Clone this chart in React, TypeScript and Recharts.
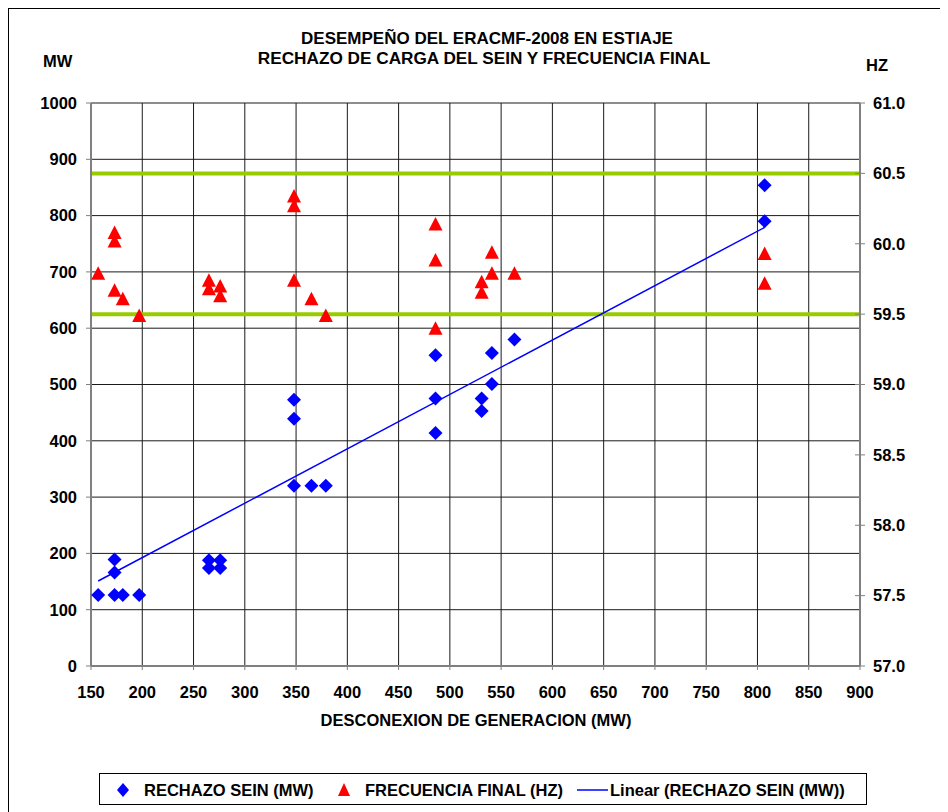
import React from 'react';
import { ScatterChart, Scatter, XAxis, YAxis, CartesianGrid, ReferenceLine, Legend } from 'recharts';

// Desconexión de generación (MW) para cada rechazo de carga
const desconexionMW = [157, 173, 181, 197, 173, 173, 265, 265, 276, 276, 348, 365, 379, 348, 348, 486, 486, 486, 541, 563, 541, 531, 531, 807, 807];
const rechazoMW = [126, 126, 126, 126, 189, 166, 188, 174, 188, 174, 320, 320, 320, 473, 439, 552, 475, 414, 556, 580, 501, 475, 453, 854, 790];

// Desconexión de generación (MW) para cada frecuencia final
const frecDesconexionMW = [157, 173, 173, 173, 181, 197, 265, 265, 276, 276, 348, 348, 348, 365, 379, 486, 486, 486, 541, 541, 563, 531, 531, 807, 807];
const frecuenciaHz = [59.79, 60.08, 60.02, 59.67, 59.61, 59.49, 59.74, 59.68, 59.70, 59.63, 60.34, 60.27, 59.74, 59.61, 59.49, 60.14, 59.885, 59.40, 59.94, 59.79, 59.79, 59.73, 59.655, 59.93, 59.72];

// Linear trendline endpoints
const trendX = [157, 807];
const trendMW = [151, 779];

const limitesHz = [59.5, 60.5];

const xTicks = [150, 200, 250, 300, 350, 400, 450, 500, 550, 600, 650, 700, 750, 800, 850, 900];
const mwTicks = [0, 100, 200, 300, 400, 500, 600, 700, 800, 900, 1000];
const hzTicks = [57, 57.5, 58, 58.5, 59, 59.5, 60, 60.5, 61];

const title1 = 'DESEMPEÑO DEL ERACMF-2008 EN ESTIAJE';
const title2 = 'RECHAZO DE CARGA DEL SEIN Y FRECUENCIA FINAL';
const xTitle = 'DESCONEXION DE GENERACION (MW)';
const leftTitle = 'MW';
const rightTitle = 'HZ';
const legendNames = ['RECHAZO SEIN (MW)', 'FRECUENCIA FINAL (HZ)', 'Linear (RECHAZO SEIN (MW))'];

const rechazoData = desconexionMW.map((x, i) => ({ x, y: rechazoMW[i] }));
const frecData = frecDesconexionMW.map((x, i) => ({ x, y: frecuenciaHz[i] }));
const trendData = trendX.map((x, i) => ({ x, y: trendMW[i] }));

const FONT = "'Liberation Sans', Arial, sans-serif";
const FS = 16.5;

const Diamond = (props: any) => {
  const { cx, cy } = props;
  if (cx == null || cy == null) return null;
  return <polygon points={`${cx},${cy - 7} ${cx + 7},${cy} ${cx},${cy + 7} ${cx - 7},${cy}`} fill="#0000ff" />;
};

const Triangle = (props: any) => {
  const { cx, cy } = props;
  if (cx == null || cy == null) return null;
  return <polygon points={`${cx},${cy - 7} ${cx + 7},${cy + 6.5} ${cx - 7},${cy + 6.5}`} fill="#ff0000" />;
};

const NoShape = () => null;

const HzTick = (props: any) => {
  const { x, y, payload } = props;
  return (
    <g>
      <line x1={x - 18} y1={y} x2={x - 8} y2={y} stroke="#808080" strokeWidth={1} />
      <text x={x} y={y} dy="0.355em" textAnchor="start" fontFamily={FONT} fontWeight="bold" fontSize={FS} fill="#000">
        {Number(payload.value).toFixed(1)}
      </text>
    </g>
  );
};

const renderLegend = () => (
  <div
    style={{
      boxSizing: 'border-box',
      width: 768,
      height: 32,
      border: '1.5px solid #000',
      background: '#fff',
      position: 'relative',
    }}
  >
    <svg width={768} height={32} style={{ position: 'absolute', left: 0, top: 0 }}>
      <polygon points="23,9 29,16 23,23 17,16" fill="#0000ff" />
      <text x={44} y={22} fontFamily={FONT} fontWeight="bold" fontSize={FS} fill="#000">{legendNames[0]}</text>
      <polygon points="244,9 250,22 238,22" fill="#ff0000" />
      <text x={265} y={22} fontFamily={FONT} fontWeight="bold" fontSize={FS} fill="#000">{legendNames[1]}</text>
      <line x1={477} y1={16} x2={508} y2={16} stroke="#0000ff" strokeWidth={1.5} />
      <text x={510} y={22} fontFamily={FONT} fontWeight="bold" fontSize={FS} fill="#000">{legendNames[2]}</text>
    </svg>
  </div>
);

const tickStyle = { fontFamily: FONT, fontWeight: 'bold' as const, fontSize: FS, fill: '#000' };

export default function App() {
  return (
    <div style={{ position: 'relative', width: 948, height: 812, marginLeft: -8, marginTop: -8, overflow: 'hidden', background: '#fff' }}>
      <div style={{ position: 'absolute', left: 0, top: 0 }}>
        <ScatterChart width={948} height={812} margin={{ top: 103, right: 0, bottom: 44, left: 0 }}>
          <CartesianGrid stroke="#1a1a1a" strokeWidth={1} yAxisId="mw" />
          <XAxis
            type="number"
            dataKey="x"
            domain={[150, 900]}
            ticks={xTicks}
            interval={0}
            allowDataOverflow
            height={70}
            tickSize={4}
            tickMargin={16}
            axisLine={{ stroke: '#808080', strokeWidth: 2 }}
            tickLine={{ stroke: '#808080' }}
            tick={tickStyle}
          />
          <YAxis
            yAxisId="mw"
            type="number"
            dataKey="y"
            domain={[0, 1000]}
            ticks={mwTicks}
            interval={0}
            width={91}
            tickSize={5}
            tickMargin={9}
            axisLine={{ stroke: '#808080', strokeWidth: 2 }}
            tickLine={{ stroke: '#808080' }}
            tick={tickStyle}
          />
          <YAxis
            yAxisId="hz"
            orientation="right"
            type="number"
            dataKey="y"
            domain={[57, 61]}
            ticks={hzTicks}
            interval={0}
            width={88}
            tickSize={5}
            tickMargin={8}
            axisLine={{ stroke: '#808080', strokeWidth: 2 }}
            tickLine={false}
            tick={<HzTick />}
          />
          {limitesHz.map((v) => (
            <ReferenceLine key={v} yAxisId="hz" y={v} stroke="#99cc00" strokeWidth={4} />
          ))}
          <Scatter name={legendNames[0]} yAxisId="mw" data={rechazoData} shape={Diamond} isAnimationActive={false} />
          <Scatter name={legendNames[1]} yAxisId="hz" data={frecData} shape={Triangle} isAnimationActive={false} />
          <Scatter
            name={legendNames[2]}
            yAxisId="mw"
            data={trendData}
            shape={NoShape}
            line={{ stroke: '#0000ff', strokeWidth: 1.5 }}
            isAnimationActive={false}
          />
          <Legend
            content={renderLegend}
            wrapperStyle={{ position: 'absolute', left: 99, top: 773, width: 768, height: 32, bottom: 'auto' }}
          />
        </ScatterChart>
      </div>
      <svg width={948} height={812} style={{ position: 'absolute', left: 0, top: 0, pointerEvents: 'none' }}>
        <text x={487} y={44} textAnchor="middle" fontFamily={FONT} fontWeight="bold" fontSize={17} fill="#000">{title1}</text>
        <text x={484} y={64} textAnchor="middle" fontFamily={FONT} fontWeight="bold" fontSize={17.2} fill="#000">{title2}</text>
        <text x={43} y={67} fontFamily={FONT} fontWeight="bold" fontSize={FS} fill="#000">{leftTitle}</text>
        <text x={866} y={71} fontFamily={FONT} fontWeight="bold" fontSize={FS} fill="#000">{rightTitle}</text>
        <text x={476} y={726} textAnchor="middle" fontFamily={FONT} fontWeight="bold" fontSize={FS} fill="#000">{xTitle}</text>
      </svg>
      <div
        style={{
          position: 'absolute',
          left: 6,
          top: 6,
          width: 980,
          height: 840,
          borderLeft: '3px solid #000',
          borderTop: '3px solid #000',
          zIndex: 10,
          pointerEvents: 'none',
        }}
      />
    </div>
  );
}
